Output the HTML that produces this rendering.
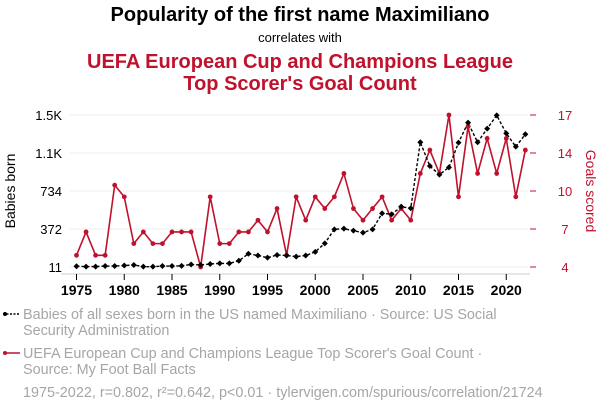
<!DOCTYPE html>
<html><head><meta charset="utf-8"><style>
body{margin:0;width:600px;height:414px;background:#fff;font-family:"Liberation Sans",sans-serif;overflow:hidden}
svg text{font-family:"Liberation Sans",sans-serif}
</style></head><body>
<svg id="c" width="600" height="414">
<text x="300" y="21" text-anchor="middle" font-size="20" font-weight="bold" fill="#000">Popularity of the first name Maximiliano</text>
<text x="300" y="42" text-anchor="middle" font-size="13" fill="#000">correlates with</text>
<text x="300" y="68" text-anchor="middle" font-size="20" font-weight="bold" fill="#c0112d">UEFA European Cup and Champions League</text>
<text x="300" y="90" text-anchor="middle" font-size="20" font-weight="bold" fill="#c0112d">Top Scorer's Goal Count</text>
<g id="grid"></g><g id="axes"></g><g id="marks"></g>
<text transform="translate(15,191) rotate(-90)" text-anchor="middle" font-size="14" fill="#000">Babies born</text>
<text transform="translate(586,191) rotate(90)" text-anchor="middle" font-size="14" fill="#c0112d">Goals scored</text>
<g>
<line x1="3" y1="314" x2="20" y2="314" stroke="#000" stroke-dasharray="2,1.5" stroke-width="1.5"/><circle cx="5" cy="314" r="2" fill="#000"/>
<text x="23" y="319" font-size="14.4" fill="#a6a6a6">Babies of all sexes born in the US named Maximiliano · Source: US Social</text>
<text x="23" y="335" font-size="14.4" fill="#a6a6a6">Security Administration</text></g>
<g>
<line x1="3" y1="353" x2="20" y2="353" stroke="#c0112d" stroke-width="1.5"/><circle cx="5" cy="353" r="2" fill="#c0112d"/>
<text x="23" y="358" font-size="14.4" fill="#a6a6a6">UEFA European Cup and Champions League Top Scorer's Goal Count ·</text>
<text x="23" y="374" font-size="14.4" fill="#a6a6a6">Source: My Foot Ball Facts</text></g>
<text x="23" y="397" font-size="14.4" fill="#a6a6a6">1975-2022, r=0.802, r²=0.642, p&lt;0.01 · tylervigen.com/spurious/correlation/21724</text>
</svg>
<script>
const years=[];for(let y=1975;y<=2022;y++)years.push(y);
const babies=[18,15,15,20,20,25,30,14,14,20,20,22,35,30,40,45,45,70,137,120,100,125,120,110,120,155,236,369,375,356,337,369,521,512,584,569,1196,970,888,958,1192,1382,1196,1325,1452,1281,1154,1272];
const goals=[5,7,5,5,11,10,6,7,6,6,7,7,7,4,10,6,6,7,7,8,7,9,5,10,8,10,9,10,12,9,8,9,10,8,9,8,12,14,12,17,10,16,12,15,12,15,10,14];
const leftTicks=[11,372,733,1094,1455];
const leftLabels=["11","372","734","1.1K","1.5K"];
const rightTicks=[4,7.25,10.5,13.75,17];
const rightLabels=["4","7","10","14","17"];
const xTicks=[1975,1980,1985,1990,1995,2000,2005,2010,2015,2020];
const NS="http://www.w3.org/2000/svg";
const xS=y=>76.5+(y-1975)*9.55;
const yL=v=>267-(v-11)/(1455-11)*152;
const yR=v=>267-(v-4)/(17-4)*152;
function mk(t,a,p){const e=document.createElementNS(NS,t);for(const k in a)e.setAttribute(k,a[k]);document.getElementById(p).appendChild(e);return e;}
leftTicks.forEach((v,i)=>{
 const g=mk('line',{x1:70,x2:528,y1:yL(v),y2:yL(v),stroke:'#eee','stroke-width':1},'grid');
 
 
 const t=mk('text',{x:62,y:yL(v)+5,'text-anchor':'end','font-size':13,fill:'#000'},'axes');t.textContent=leftLabels[i];
 
 
});
rightTicks.forEach((v,i)=>{
 const l=mk('line',{x1:530,x2:536,y1:yR(v),y2:yR(v),stroke:'#c0112d'},'axes');
 
 
 const t=mk('text',{x:565,y:yR(v)+5,'text-anchor':'middle','font-size':13,fill:'#c0112d'},'axes');t.textContent=rightLabels[i];
 
 
});
const ax=mk('line',{x1:61,x2:530,y1:274,y2:274,stroke:'#ccc'},'axes');


xTicks.forEach(y=>{
 const l=mk('line',{x1:xS(y),x2:xS(y),y1:274,y2:280,stroke:'#000'},'axes');
 
 
 const t=mk('text',{x:xS(y),y:295,'text-anchor':'middle','font-size':14,'font-weight':'bold',fill:'#000'},'axes');t.textContent=y;
 
 
});
const gp=mk('polyline',{points:goals.map((v,i)=>xS(years[i])+','+yR(v)).join(' '),fill:'none',stroke:'#c0112d','stroke-width':1.6},'marks');


const bp=mk('polyline',{points:babies.map((v,i)=>xS(years[i])+','+yL(v)).join(' '),fill:'none',stroke:'#000','stroke-width':1.4,'stroke-dasharray':'3,2'},'marks');


goals.forEach((v,i)=>{const c=mk('circle',{cx:xS(years[i]),cy:yR(v),r:2.4,fill:'#c0112d'},'marks');
 
 });
babies.forEach((v,i)=>{const x=xS(years[i]),y=yL(v);const c=mk('polygon',{points:`${x},${y-3} ${x+3},${y} ${x},${y+3} ${x-3},${y}`,fill:'#000'},'marks');
 
 });
</script>
</body></html>
